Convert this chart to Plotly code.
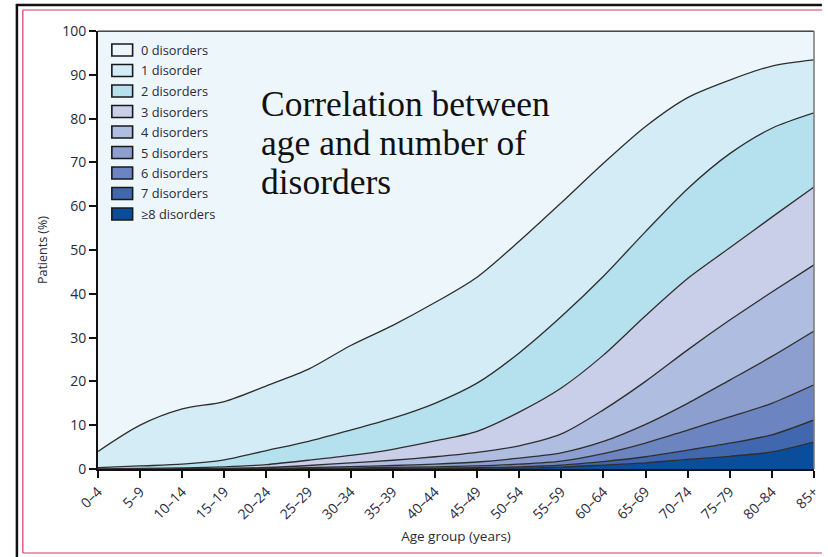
import plotly.graph_objects as go

# ---------------- data ----------------
age_groups = ["0–4", "5–9", "10–14", "15–19", "20–24", "25–29", "30–34", "35–39",
              "40–44", "45–49", "50–54", "55–59", "60–64", "65–69", "70–74",
              "75–79", "80–84", "85+"]

d8 = [0, 0, 0, 0, 0.01, 0.02, 0.04, 0.06, 0.1, 0.15, 0.25, 0.45, 0.9, 1.4, 2.2, 2.9, 3.9, 6.2]
d7 = [0, 0, 0, 0.01, 0.01, 0.03, 0.06, 0.09, 0.12, 0.15, 0.25, 0.45, 0.8, 1.4, 2.1, 3.0, 3.9, 5.0]
d6 = [0, 0.01, 0.01, 0.01, 0.03, 0.07, 0.12, 0.2, 0.28, 0.4, 0.6, 0.9, 1.8, 3.1, 4.6, 6.0, 7.2, 8.0]
d5 = [0.01, 0.01, 0.02, 0.04, 0.1, 0.18, 0.33, 0.45, 0.6, 0.9, 1.4, 1.9, 2.8, 4.3, 6.1, 8.4, 10.7, 12.3]
d4 = [0.01, 0.03, 0.05, 0.09, 0.2, 0.5, 0.85, 1.2, 1.7, 2.2, 2.8, 4.3, 7.2, 9.8, 12.2, 13.7, 14.7, 15.1]
d3 = [0.03, 0.1, 0.17, 0.35, 0.65, 1.2, 1.7, 2.5, 3.6, 4.8, 7.7, 10.5, 12.5, 15.0, 16.3, 16.5, 17.1, 17.8]
d2 = [0.25, 0.55, 0.85, 1.6, 3.2, 4.3, 5.8, 7.1, 8.6, 11.0, 13.5, 16.3, 18.0, 19.2, 20.5, 21.5, 20.3, 16.9]
d1 = [3.7, 9.3, 12.6, 13.3, 14.8, 16.5, 19.3, 21.2, 23.0, 24.2, 25.5, 26.0, 25.8, 24.0, 20.8, 16.8, 14.2, 12.1]
d0 = [96.0, 90.0, 86.3, 84.6, 81.0, 77.2, 71.8, 67.2, 62.0, 56.2, 48.0, 39.2, 30.2, 21.8, 15.2, 11.2, 8.0, 6.6]

series_names = ["≥8 disorders", "7 disorders", "6 disorders", "5 disorders", "4 disorders",
                "3 disorders", "2 disorders", "1 disorder", "0 disorders"]
series_values = [d8, d7, d6, d5, d4, d3, d2, d1, d0]
series_colors = ["#0a4e9b", "#4168ae", "#6c84c0", "#8d9fcf", "#afbde0",
                 "#cacfe9", "#b5e0ee", "#d3ecf6", "#edf6fa"]

y_ticks = [0, 10, 20, 30, 40, 50, 60, 70, 80, 90, 100]

# ---------------- layout geometry (pixels) ----------------
W, H = 828, 557
L, R, T, B = 98, 822, 31, 469


def px(x):
    return (x - L) / (R - L)


def py(y):
    return (B - y) / (B - T)


fig = go.Figure()
for name, vals, col in zip(series_names, series_values, series_colors):
    fig.add_trace(go.Scatter(
        x=age_groups, y=vals, name=name, mode="lines",
        stackgroup="one", fillcolor=col,
        line=dict(color="#2e2e2e", width=1.3, shape="spline", smoothing=0.8),
        showlegend=False, hoverinfo="skip",
    ))

shapes = []
annotations = []

# custom legend (boxes + labels), top item = 0 disorders
leg_names = series_names[::-1]
leg_colors = series_colors[::-1]
row0, pitch = 50, 20.5
for i, (nm, col) in enumerate(zip(leg_names, leg_colors)):
    cy = row0 + i * pitch
    shapes.append(dict(type="rect", xref="paper", yref="paper",
                       x0=px(112), x1=px(133), y0=py(cy - 6), y1=py(cy + 6),
                       fillcolor=col, line=dict(color="#1a1a1a", width=1.6)))
    annotations.append(dict(xref="paper", yref="paper", x=px(139), y=py(cy),
                            xanchor="left", yanchor="middle", showarrow=False,
                            text=nm, font=dict(family="Open Sans", size=12.8, color="#2a2a3a")))

# serif caption inside plot
caption_lines = ["Correlation between", "age and number of", "disorders"]
for i, line in enumerate(caption_lines):
    annotations.append(dict(xref="paper", yref="paper", x=px(261), y=py(104 + i * 39),
                            xanchor="left", yanchor="middle", showarrow=False,
                            text=line, font=dict(family="Liberation Serif", size=35.5, color="#111111")))

# plot frame: top and right
shapes.append(dict(type="line", xref="paper", yref="paper", x0=0, x1=1, y0=1, y1=1,
                   line=dict(color="#333333", width=1)))
shapes.append(dict(type="line", xref="paper", yref="paper", x0=1, x1=1, y0=0, y1=1,
                   line=dict(color="#777777", width=1.5)))

# outer page frame
shapes.append(dict(type="line", xref="paper", yref="paper", x0=px(15), x1=px(830), y0=py(5), y1=py(5),
                   line=dict(color="#111111", width=2.5)))
shapes.append(dict(type="line", xref="paper", yref="paper", x0=px(16), x1=px(16), y0=py(4), y1=py(560),
                   line=dict(color="#111111", width=2.5)))
red = "#d23a5e"
shapes.append(dict(type="line", xref="paper", yref="paper", x0=px(22), x1=px(830), y0=py(10), y1=py(10),
                   line=dict(color=red, width=1.2)))
shapes.append(dict(type="line", xref="paper", yref="paper", x0=px(22), x1=px(22), y0=py(10), y1=py(553),
                   line=dict(color=red, width=1.2)))
shapes.append(dict(type="line", xref="paper", yref="paper", x0=px(22), x1=px(830), y0=py(553), y1=py(553),
                   line=dict(color=red, width=1.2)))

fig.update_layout(
    width=W, height=H,
    margin=dict(l=L, r=W - R, t=T, b=H - B, pad=0),
    paper_bgcolor="white", plot_bgcolor="white",
    font=dict(family="Open Sans", size=13, color="#2a2a3a"),
    shapes=shapes, annotations=annotations,
    showlegend=False,
)
fig.update_xaxes(
    type="category", range=[0, len(age_groups) - 1],
    showline=True, linecolor="#111111", linewidth=2,
    ticks="outside", ticklen=7, tickwidth=1.5, tickcolor="#111111",
    tickangle=-45, tickfont=dict(size=14),
    showgrid=False, zeroline=False,
    title=dict(text="Age group (years)", font=dict(size=13.5), standoff=9),
)
fig.update_yaxes(
    range=[0, 100], tickvals=y_ticks,
    showline=True, linecolor="#111111", linewidth=2,
    ticks="outside", ticklen=7, tickwidth=1.5, tickcolor="#111111",
    tickfont=dict(size=14),
    showgrid=False, zeroline=False,
    title=dict(text="Patients (%)", font=dict(size=12.5), standoff=12),
)

fig.write_html("out.html")
